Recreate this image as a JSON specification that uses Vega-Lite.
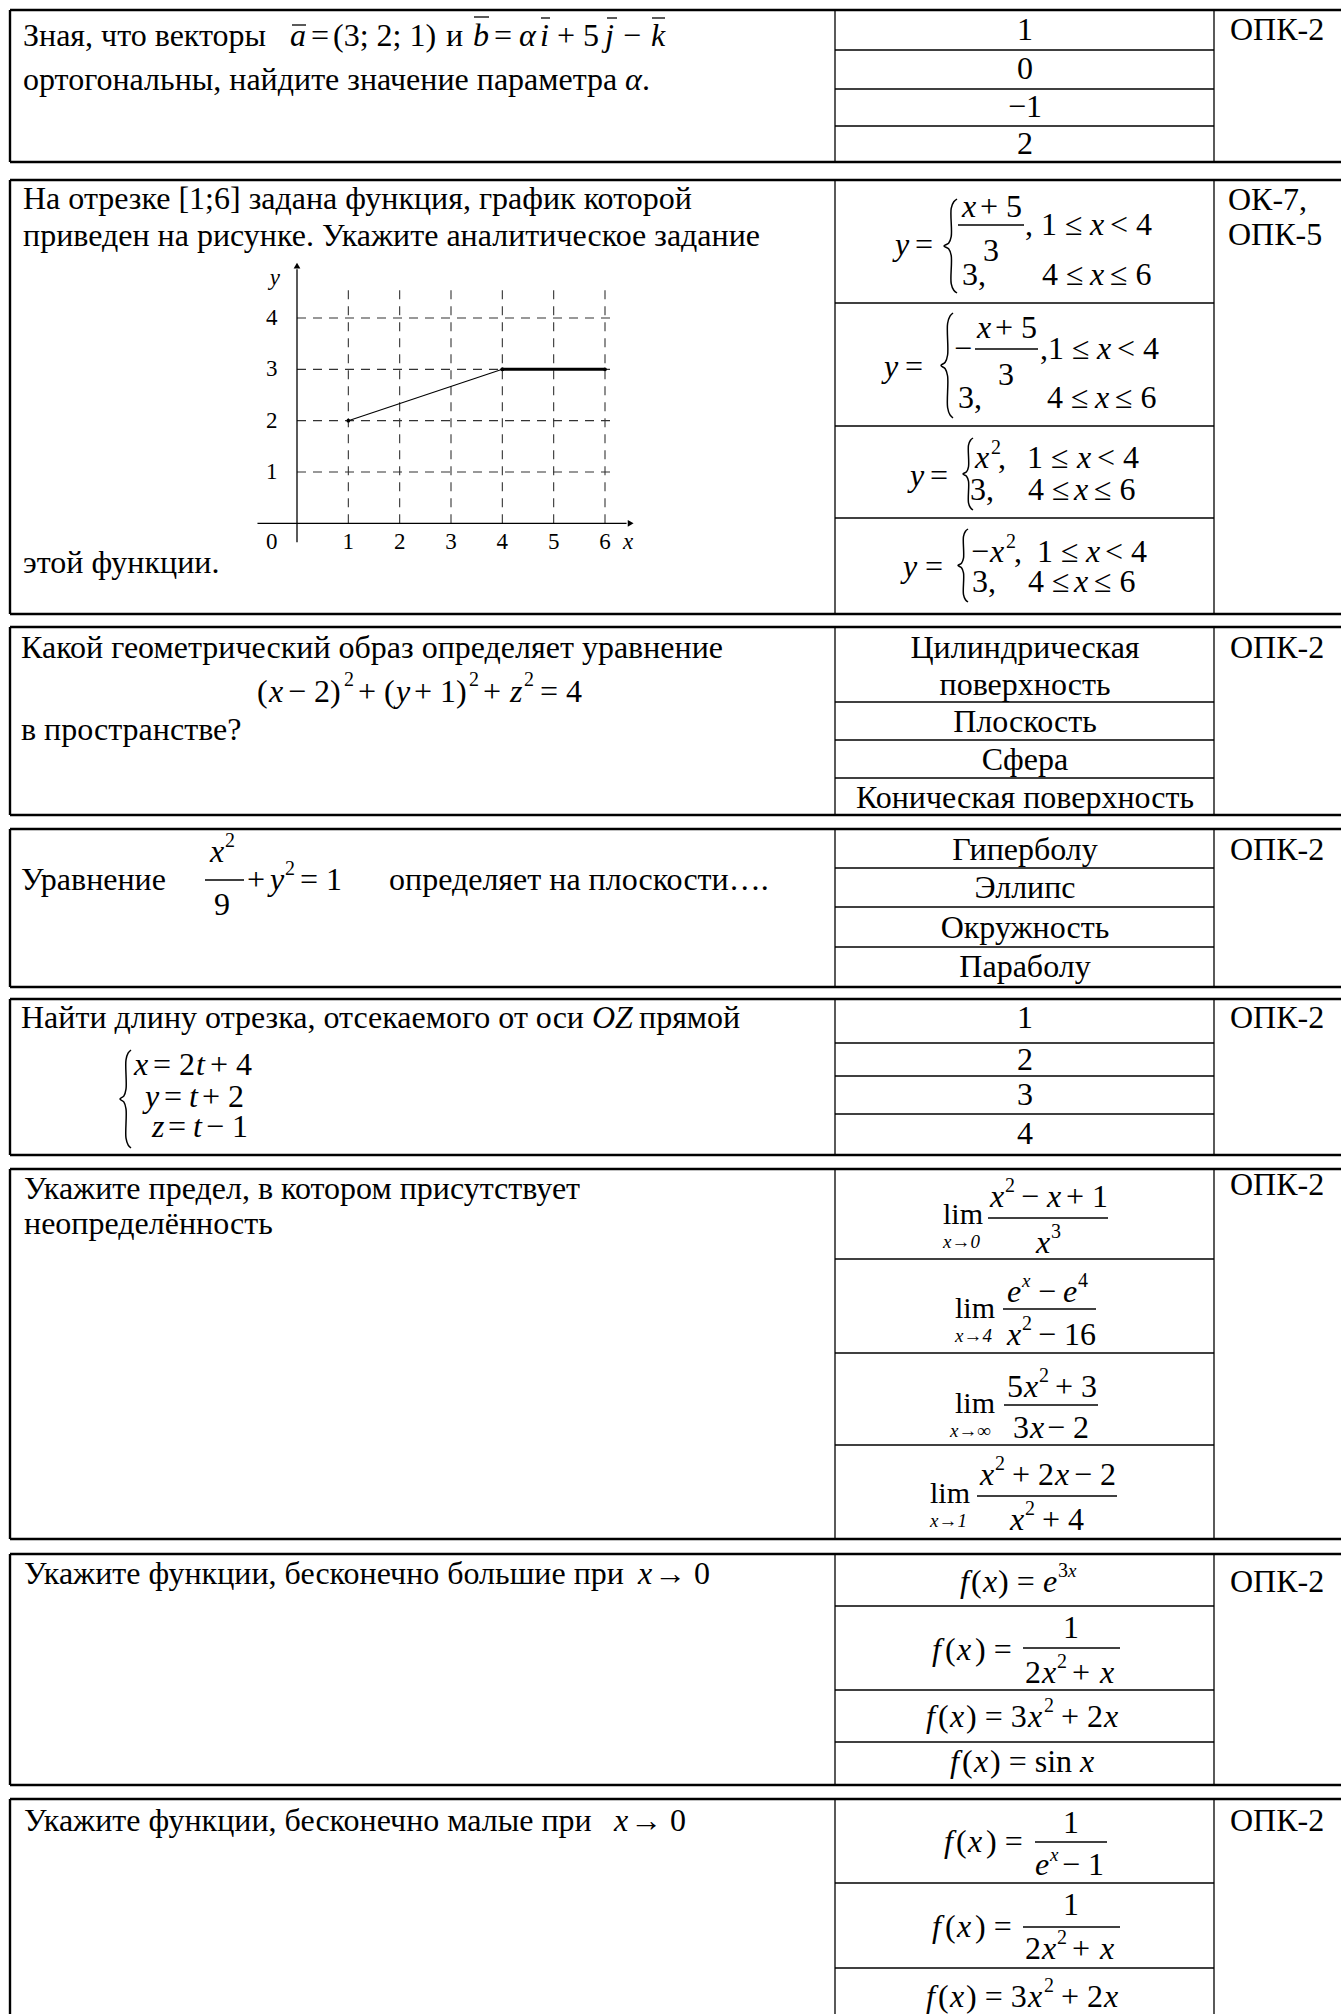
{
"$schema":"https://vega.github.io/schema/vega-lite/v6.json",
"width":1341,"height":2014,"autosize":{"type":"none"},"padding":0,"background":"white",
"config":{"view":{"stroke":null}},
"datasets":{
"rules":[
{"x":10,"x2":1341,"y":10,"y2":10,"k":"thick"},{"x":10,"x2":1341,"y":162,"y2":162,"k":"thick"},
{"x":10,"x2":1341,"y":180,"y2":180,"k":"thick"},{"x":10,"x2":1341,"y":614,"y2":614,"k":"thick"},
{"x":10,"x2":1341,"y":627,"y2":627,"k":"thick"},{"x":10,"x2":1341,"y":815,"y2":815,"k":"thick"},
{"x":10,"x2":1341,"y":829,"y2":829,"k":"thick"},{"x":10,"x2":1341,"y":987,"y2":987,"k":"thick"},
{"x":10,"x2":1341,"y":999,"y2":999,"k":"thick"},{"x":10,"x2":1341,"y":1155,"y2":1155,"k":"thick"},
{"x":10,"x2":1341,"y":1169,"y2":1169,"k":"thick"},{"x":10,"x2":1341,"y":1539,"y2":1539,"k":"thick"},
{"x":10,"x2":1341,"y":1554,"y2":1554,"k":"thick"},{"x":10,"x2":1341,"y":1785,"y2":1785,"k":"thick"},
{"x":10,"x2":1341,"y":1799,"y2":1799,"k":"thick"},
{"x":10,"x2":10,"y":10,"y2":162,"k":"thick"},{"x":10,"x2":10,"y":180,"y2":614,"k":"thick"},
{"x":10,"x2":10,"y":627,"y2":815,"k":"thick"},{"x":10,"x2":10,"y":829,"y2":987,"k":"thick"},
{"x":10,"x2":10,"y":999,"y2":1155,"k":"thick"},{"x":10,"x2":10,"y":1169,"y2":1539,"k":"thick"},
{"x":10,"x2":10,"y":1554,"y2":1785,"k":"thick"},{"x":10,"x2":10,"y":1799,"y2":2014,"k":"thick"},
{"x":835,"x2":835,"y":10,"y2":162,"k":"thin"},{"x":1214,"x2":1214,"y":10,"y2":162,"k":"thin"},
{"x":835,"x2":835,"y":180,"y2":614,"k":"thin"},{"x":1214,"x2":1214,"y":180,"y2":614,"k":"thin"},
{"x":835,"x2":835,"y":627,"y2":815,"k":"thin"},{"x":1214,"x2":1214,"y":627,"y2":815,"k":"thin"},
{"x":835,"x2":835,"y":829,"y2":987,"k":"thin"},{"x":1214,"x2":1214,"y":829,"y2":987,"k":"thin"},
{"x":835,"x2":835,"y":999,"y2":1155,"k":"thin"},{"x":1214,"x2":1214,"y":999,"y2":1155,"k":"thin"},
{"x":835,"x2":835,"y":1169,"y2":1539,"k":"thin"},{"x":1214,"x2":1214,"y":1169,"y2":1539,"k":"thin"},
{"x":835,"x2":835,"y":1554,"y2":1785,"k":"thin"},{"x":1214,"x2":1214,"y":1554,"y2":1785,"k":"thin"},
{"x":835,"x2":835,"y":1799,"y2":2014,"k":"thin"},{"x":1214,"x2":1214,"y":1799,"y2":2014,"k":"thin"},
{"x":835,"x2":1214,"y":50,"y2":50,"k":"row"},{"x":835,"x2":1214,"y":89,"y2":89,"k":"row"},{"x":835,"x2":1214,"y":126,"y2":126,"k":"row"},
{"x":835,"x2":1214,"y":303,"y2":303,"k":"row"},{"x":835,"x2":1214,"y":426,"y2":426,"k":"row"},{"x":835,"x2":1214,"y":518,"y2":518,"k":"row"},
{"x":835,"x2":1214,"y":702,"y2":702,"k":"row"},{"x":835,"x2":1214,"y":740,"y2":740,"k":"row"},{"x":835,"x2":1214,"y":778,"y2":778,"k":"row"},
{"x":835,"x2":1214,"y":868,"y2":868,"k":"row"},{"x":835,"x2":1214,"y":907,"y2":907,"k":"row"},{"x":835,"x2":1214,"y":947,"y2":947,"k":"row"},
{"x":835,"x2":1214,"y":1043,"y2":1043,"k":"row"},{"x":835,"x2":1214,"y":1076,"y2":1076,"k":"row"},{"x":835,"x2":1214,"y":1114,"y2":1114,"k":"row"},
{"x":835,"x2":1214,"y":1259,"y2":1259,"k":"row"},{"x":835,"x2":1214,"y":1353,"y2":1353,"k":"row"},{"x":835,"x2":1214,"y":1445,"y2":1445,"k":"row"},
{"x":835,"x2":1214,"y":1606,"y2":1606,"k":"row"},{"x":835,"x2":1214,"y":1690,"y2":1690,"k":"row"},{"x":835,"x2":1214,"y":1742,"y2":1742,"k":"row"},
{"x":835,"x2":1214,"y":1883,"y2":1883,"k":"row"},{"x":835,"x2":1214,"y":1968,"y2":1968,"k":"row"},
{"x":958,"x2":1024,"y":225,"y2":225,"k":"bar"},{"x":975,"x2":1038,"y":349,"y2":349,"k":"bar"},
{"x":205,"x2":244,"y":880,"y2":880,"k":"bar"},
{"x":988,"x2":1108,"y":1218,"y2":1218,"k":"bar"},{"x":1003,"x2":1096,"y":1309,"y2":1309,"k":"bar"},
{"x":1004,"x2":1098,"y":1405,"y2":1405,"k":"bar"},{"x":977,"x2":1117,"y":1496,"y2":1496,"k":"bar"},
{"x":1023,"x2":1120,"y":1648,"y2":1648,"k":"bar"},{"x":1035,"x2":1107,"y":1842,"y2":1842,"k":"bar"},
{"x":1023,"x2":1120,"y":1927,"y2":1927,"k":"bar"},
{"x":292,"x2":306,"y":25,"y2":25,"k":"bar"},{"x":474,"x2":489,"y":17,"y2":17,"k":"bar"},
{"x":541,"x2":550,"y":18,"y2":18,"k":"bar"},{"x":607,"x2":617,"y":18,"y2":18,"k":"bar"},
{"x":652,"x2":665,"y":18,"y2":18,"k":"bar"}
],
"braces":[
{"id":"a","i":0,"x":957,"y":199},{"id":"a","i":1,"x":953.8,"y":201.8},{"id":"a","i":2,"x":951.2,"y":208.4},{"id":"a","i":3,"x":951.2,"y":236.6},{"id":"a","i":4,"x":948.6,"y":243.2},{"id":"a","i":5,"x":944,"y":246},{"id":"a","i":6,"x":948.6,"y":248.8},{"id":"a","i":7,"x":951.2,"y":255.4},{"id":"a","i":8,"x":951.2,"y":283.6},{"id":"a","i":9,"x":953.8,"y":290.2},{"id":"a","i":10,"x":957,"y":293},
{"id":"b","i":0,"x":953,"y":313},{"id":"b","i":1,"x":950,"y":316.2},{"id":"b","i":2,"x":947.6,"y":323.5},{"id":"b","i":3,"x":947.6,"y":355},{"id":"b","i":4,"x":945.2,"y":362.3},{"id":"b","i":5,"x":941,"y":365.5},{"id":"b","i":6,"x":945.2,"y":368.7},{"id":"b","i":7,"x":947.6,"y":376},{"id":"b","i":8,"x":947.6,"y":407.5},{"id":"b","i":9,"x":950,"y":414.9},{"id":"b","i":10,"x":953,"y":418},
{"id":"c","i":0,"x":973,"y":438},{"id":"c","i":1,"x":970.5,"y":440.2},{"id":"c","i":2,"x":968.5,"y":445.2},{"id":"c","i":3,"x":968.5,"y":466.8},{"id":"c","i":4,"x":966.5,"y":471.8},{"id":"c","i":5,"x":963,"y":474},{"id":"c","i":6,"x":966.5,"y":476.2},{"id":"c","i":7,"x":968.5,"y":481.2},{"id":"c","i":8,"x":968.5,"y":502.8},{"id":"c","i":9,"x":970.5,"y":507.8},{"id":"c","i":10,"x":973,"y":510},
{"id":"d","i":0,"x":968,"y":529},{"id":"d","i":1,"x":965.5,"y":531.2},{"id":"d","i":2,"x":963.5,"y":536.3},{"id":"d","i":3,"x":963.5,"y":558.2},{"id":"d","i":4,"x":961.5,"y":563.3},{"id":"d","i":5,"x":958,"y":565.5},{"id":"d","i":6,"x":961.5,"y":567.7},{"id":"d","i":7,"x":963.5,"y":572.8},{"id":"d","i":8,"x":963.5,"y":594.7},{"id":"d","i":9,"x":965.5,"y":599.8},{"id":"d","i":10,"x":968,"y":602},
{"id":"e","i":0,"x":131,"y":1050},{"id":"e","i":1,"x":128.2,"y":1052.9},{"id":"e","i":2,"x":126,"y":1059.8},{"id":"e","i":3,"x":126,"y":1089.2},{"id":"e","i":4,"x":123.8,"y":1096.1},{"id":"e","i":5,"x":120,"y":1099},{"id":"e","i":6,"x":123.8,"y":1101.9},{"id":"e","i":7,"x":126,"y":1108.8},{"id":"e","i":8,"x":126,"y":1138.2},{"id":"e","i":9,"x":128.2,"y":1145.1},{"id":"e","i":10,"x":131,"y":1148}
],
"txt":[
{"t":"Зная, что векторы","x":23,"y":36,"k":"t"},{"t":"a","x":290,"y":36,"k":"i"},{"t":"=","x":311,"y":36,"k":"t"},{"t":"(3; 2; 1)","x":333,"y":36,"k":"t"},
{"t":"и","x":446,"y":36,"k":"t"},{"t":"b","x":473,"y":36,"k":"i"},{"t":"=","x":494,"y":36,"k":"t"},{"t":"α","x":519,"y":36,"k":"i"},{"t":"i","x":540,"y":36,"k":"i"},
{"t":"+ 5","x":557,"y":36,"k":"t"},{"t":"j","x":605,"y":36,"k":"i"},{"t":"−","x":623,"y":36,"k":"t"},{"t":"k","x":651,"y":36,"k":"i"},
{"t":"ортогональны, найдите значение параметра","x":23,"y":80,"k":"t"},{"t":"α","x":625,"y":80,"k":"i"},{"t":".","x":642,"y":80,"k":"t"},
{"t":"1","x":1025,"y":30,"k":"c"},{"t":"0","x":1025,"y":69,"k":"c"},{"t":"−1","x":1025,"y":107,"k":"c"},{"t":"2","x":1025,"y":144,"k":"c"},
{"t":"ОПК-2","x":1230,"y":30,"k":"t"},
{"t":"На отрезке [1;6] задана функция, график которой","x":23,"y":199,"k":"t"},
{"t":"приведен на рисунке. Укажите аналитическое задание","x":23,"y":236,"k":"t"},
{"t":"этой функции.","x":23,"y":563,"k":"t"},
{"t":"ОК-7,","x":1228,"y":200,"k":"t"},{"t":"ОПК-5","x":1228,"y":235,"k":"t"},
{"t":"y","x":895,"y":245,"k":"i"},{"t":"=","x":915,"y":245,"k":"t"},{"t":"x","x":962,"y":207,"k":"i"},{"t":"+ 5","x":980,"y":207,"k":"t"},{"t":"3","x":991,"y":251,"k":"c"},
{"t":", 1 ≤","x":1025,"y":225,"k":"t"},{"t":"x","x":1090,"y":225,"k":"i"},{"t":"< 4","x":1110,"y":225,"k":"t"},
{"t":"3,","x":962,"y":275,"k":"t"},{"t":"4 ≤","x":1042,"y":275,"k":"t"},{"t":"x","x":1090,"y":275,"k":"i"},{"t":"≤ 6","x":1110,"y":275,"k":"t"},
{"t":"y","x":884,"y":367,"k":"i"},{"t":"=","x":905,"y":367,"k":"t"},{"t":"−","x":954,"y":349,"k":"t"},{"t":"x","x":977,"y":328,"k":"i"},{"t":"+ 5","x":995,"y":328,"k":"t"},{"t":"3","x":1006,"y":375,"k":"c"},
{"t":",1 ≤","x":1040,"y":349,"k":"t"},{"t":"x","x":1097,"y":349,"k":"i"},{"t":"< 4","x":1117,"y":349,"k":"t"},
{"t":"3,","x":958,"y":398,"k":"t"},{"t":"4 ≤","x":1047,"y":398,"k":"t"},{"t":"x","x":1095,"y":398,"k":"i"},{"t":"≤ 6","x":1115,"y":398,"k":"t"},
{"t":"y","x":910,"y":476,"k":"i"},{"t":"=","x":930,"y":476,"k":"t"},{"t":"x","x":975,"y":458,"k":"i"},{"t":"2","x":991,"y":448,"k":"s"},{"t":",","x":998,"y":458,"k":"t"},
{"t":"1 ≤","x":1027,"y":458,"k":"t"},{"t":"x","x":1077,"y":458,"k":"i"},{"t":"< 4","x":1097,"y":458,"k":"t"},
{"t":"3,","x":970,"y":490,"k":"t"},{"t":"4 ≤","x":1028,"y":490,"k":"t"},{"t":"x","x":1074,"y":490,"k":"i"},{"t":"≤ 6","x":1094,"y":490,"k":"t"},
{"t":"y","x":903,"y":567,"k":"i"},{"t":"=","x":925,"y":567,"k":"t"},{"t":"−","x":971,"y":552,"k":"t"},{"t":"x","x":990,"y":552,"k":"i"},{"t":"2","x":1006,"y":542,"k":"s"},{"t":",","x":1014,"y":552,"k":"t"},
{"t":"1 ≤","x":1037,"y":552,"k":"t"},{"t":"x","x":1086,"y":552,"k":"i"},{"t":"< 4","x":1105,"y":552,"k":"t"},
{"t":"3,","x":972,"y":582,"k":"t"},{"t":"4 ≤","x":1028,"y":582,"k":"t"},{"t":"x","x":1074,"y":582,"k":"i"},{"t":"≤ 6","x":1094,"y":582,"k":"t"},
{"t":"Какой геометрический образ определяет уравнение","x":21,"y":648,"k":"t"},
{"t":"(","x":257,"y":692,"k":"t"},{"t":"x","x":269,"y":692,"k":"i"},{"t":"− 2)","x":288,"y":692,"k":"t"},{"t":"2","x":344,"y":680,"k":"s"},
{"t":"+ (","x":358,"y":692,"k":"t"},{"t":"y","x":396,"y":692,"k":"i"},{"t":"+ 1)","x":414,"y":692,"k":"t"},{"t":"2","x":469,"y":680,"k":"s"},
{"t":"+","x":483,"y":692,"k":"t"},{"t":"z","x":510,"y":692,"k":"i"},{"t":"2","x":524,"y":680,"k":"s"},{"t":"= 4","x":540,"y":692,"k":"t"},
{"t":"в пространстве?","x":21,"y":730,"k":"t"},
{"t":"Цилиндрическая","x":1025,"y":648,"k":"c"},{"t":"поверхность","x":1025,"y":685,"k":"c"},{"t":"Плоскость","x":1025,"y":722,"k":"c"},
{"t":"Сфера","x":1025,"y":760,"k":"c"},{"t":"Коническая поверхность","x":1025,"y":798,"k":"c"},{"t":"ОПК-2","x":1230,"y":648,"k":"t"},
{"t":"Уравнение","x":21,"y":880,"k":"t"},{"t":"x","x":210,"y":852,"k":"i"},{"t":"2","x":225,"y":841,"k":"s"},{"t":"9","x":222,"y":905,"k":"c"},
{"t":"+","x":247,"y":880,"k":"t"},{"t":"y","x":270,"y":880,"k":"i"},{"t":"2","x":285,"y":869,"k":"s"},{"t":"= 1","x":300,"y":880,"k":"t"},
{"t":"определяет на плоскости….","x":389,"y":880,"k":"t"},
{"t":"Гиперболу","x":1025,"y":850,"k":"c"},{"t":"Эллипс","x":1025,"y":888,"k":"c"},{"t":"Окружность","x":1025,"y":928,"k":"c"},{"t":"Параболу","x":1025,"y":967,"k":"c"},
{"t":"ОПК-2","x":1230,"y":850,"k":"t"},
{"t":"Найти длину отрезка, отсекаемого от оси","x":21,"y":1018,"k":"t"},{"t":"OZ","x":592,"y":1018,"k":"i"},{"t":"прямой","x":639,"y":1018,"k":"t"},
{"t":"x","x":134,"y":1065,"k":"i"},{"t":"= 2","x":153,"y":1065,"k":"t"},{"t":"t","x":196,"y":1065,"k":"i"},{"t":"+ 4","x":210,"y":1065,"k":"t"},
{"t":"y","x":145,"y":1097,"k":"i"},{"t":"=","x":164,"y":1097,"k":"t"},{"t":"t","x":189,"y":1097,"k":"i"},{"t":"+ 2","x":202,"y":1097,"k":"t"},
{"t":"z","x":152,"y":1127,"k":"i"},{"t":"=","x":168,"y":1127,"k":"t"},{"t":"t","x":193,"y":1127,"k":"i"},{"t":"− 1","x":206,"y":1127,"k":"t"},
{"t":"1","x":1025,"y":1018,"k":"c"},{"t":"2","x":1025,"y":1060,"k":"c"},{"t":"3","x":1025,"y":1095,"k":"c"},{"t":"4","x":1025,"y":1134,"k":"c"},
{"t":"ОПК-2","x":1230,"y":1018,"k":"t"},
{"t":"Укажите предел, в котором присутствует","x":24,"y":1189,"k":"t"},{"t":"неопределённость","x":24,"y":1224,"k":"t"},{"t":"ОПК-2","x":1230,"y":1185,"k":"t"},
{"t":"lim","x":943,"y":1215,"k":"lim"},{"t":"x→0","x":943,"y":1242,"k":"si"},
{"t":"x","x":990,"y":1197,"k":"i"},{"t":"2","x":1005,"y":1186,"k":"s"},{"t":"−","x":1021,"y":1197,"k":"t"},{"t":"x","x":1047,"y":1197,"k":"i"},{"t":"+ 1","x":1066,"y":1197,"k":"t"},
{"t":"x","x":1036,"y":1243,"k":"i"},{"t":"3","x":1051,"y":1232,"k":"s"},
{"t":"lim","x":955,"y":1309,"k":"lim"},{"t":"x→4","x":955,"y":1336,"k":"si"},
{"t":"e","x":1007,"y":1292,"k":"i"},{"t":"x","x":1022,"y":1281,"k":"si"},{"t":"−","x":1038,"y":1292,"k":"t"},{"t":"e","x":1063,"y":1292,"k":"i"},{"t":"4","x":1078,"y":1281,"k":"s"},
{"t":"x","x":1007,"y":1335,"k":"i"},{"t":"2","x":1022,"y":1324,"k":"s"},{"t":"− 16","x":1038,"y":1335,"k":"t"},
{"t":"lim","x":955,"y":1404,"k":"lim"},{"t":"x→∞","x":950,"y":1431,"k":"si"},
{"t":"5","x":1007,"y":1387,"k":"t"},{"t":"x","x":1024,"y":1387,"k":"i"},{"t":"2","x":1039,"y":1376,"k":"s"},{"t":"+ 3","x":1055,"y":1387,"k":"t"},
{"t":"3","x":1013,"y":1428,"k":"t"},{"t":"x","x":1030,"y":1428,"k":"i"},{"t":"− 2","x":1047,"y":1428,"k":"t"},
{"t":"lim","x":930,"y":1494,"k":"lim"},{"t":"x→1","x":930,"y":1521,"k":"si"},
{"t":"x","x":980,"y":1475,"k":"i"},{"t":"2","x":995,"y":1464,"k":"s"},{"t":"+ 2","x":1012,"y":1475,"k":"t"},{"t":"x","x":1055,"y":1475,"k":"i"},{"t":"− 2","x":1074,"y":1475,"k":"t"},
{"t":"x","x":1010,"y":1520,"k":"i"},{"t":"2","x":1025,"y":1509,"k":"s"},{"t":"+ 4","x":1042,"y":1520,"k":"t"},
{"t":"Укажите функции, бесконечно большие при","x":24,"y":1574,"k":"t"},{"t":"x","x":638,"y":1574,"k":"i"},{"t":"→ 0","x":654,"y":1574,"k":"t"},
{"t":"ОПК-2","x":1230,"y":1582,"k":"t"},
{"t":"f","x":960,"y":1582,"k":"i"},{"t":"(","x":971,"y":1582,"k":"t"},{"t":"x","x":983,"y":1582,"k":"i"},{"t":") =","x":998,"y":1582,"k":"t"},{"t":"e","x":1043,"y":1582,"k":"i"},{"t":"3","x":1058,"y":1571,"k":"s"},{"t":"x","x":1068,"y":1571,"k":"si"},
{"t":"f","x":932,"y":1650,"k":"i"},{"t":"(","x":945,"y":1650,"k":"t"},{"t":"x","x":957,"y":1650,"k":"i"},{"t":") =","x":975,"y":1650,"k":"t"},{"t":"1","x":1071,"y":1628,"k":"c"},
{"t":"2","x":1025,"y":1673,"k":"t"},{"t":"x","x":1042,"y":1673,"k":"i"},{"t":"2","x":1057,"y":1662,"k":"s"},{"t":"+","x":1072,"y":1673,"k":"t"},{"t":"x","x":1100,"y":1673,"k":"i"},
{"t":"f","x":926,"y":1717,"k":"i"},{"t":"(","x":938,"y":1717,"k":"t"},{"t":"x","x":950,"y":1717,"k":"i"},{"t":") = 3","x":966,"y":1717,"k":"t"},{"t":"x","x":1028,"y":1717,"k":"i"},{"t":"2","x":1044,"y":1706,"k":"s"},{"t":"+ 2","x":1061,"y":1717,"k":"t"},{"t":"x","x":1104,"y":1717,"k":"i"},
{"t":"f","x":950,"y":1762,"k":"i"},{"t":"(","x":962,"y":1762,"k":"t"},{"t":"x","x":974,"y":1762,"k":"i"},{"t":") = sin","x":990,"y":1762,"k":"t"},{"t":"x","x":1080,"y":1762,"k":"i"},
{"t":"Укажите функции, бесконечно малые при","x":24,"y":1821,"k":"t"},{"t":"x","x":614,"y":1821,"k":"i"},{"t":"→ 0","x":630,"y":1821,"k":"t"},
{"t":"ОПК-2","x":1230,"y":1821,"k":"t"},
{"t":"f","x":944,"y":1842,"k":"i"},{"t":"(","x":956,"y":1842,"k":"t"},{"t":"x","x":968,"y":1842,"k":"i"},{"t":") =","x":986,"y":1842,"k":"t"},{"t":"1","x":1071,"y":1823,"k":"c"},
{"t":"e","x":1035,"y":1865,"k":"i"},{"t":"x","x":1050,"y":1855,"k":"si"},{"t":"− 1","x":1062,"y":1865,"k":"t"},
{"t":"f","x":932,"y":1927,"k":"i"},{"t":"(","x":945,"y":1927,"k":"t"},{"t":"x","x":957,"y":1927,"k":"i"},{"t":") =","x":975,"y":1927,"k":"t"},{"t":"1","x":1071,"y":1905,"k":"c"},
{"t":"2","x":1025,"y":1949,"k":"t"},{"t":"x","x":1042,"y":1949,"k":"i"},{"t":"2","x":1057,"y":1938,"k":"s"},{"t":"+","x":1072,"y":1949,"k":"t"},{"t":"x","x":1100,"y":1949,"k":"i"},
{"t":"f","x":926,"y":1997,"k":"i"},{"t":"(","x":938,"y":1997,"k":"t"},{"t":"x","x":950,"y":1997,"k":"i"},{"t":") = 3","x":966,"y":1997,"k":"t"},{"t":"x","x":1028,"y":1997,"k":"i"},{"t":"2","x":1044,"y":1986,"k":"s"},{"t":"+ 2","x":1061,"y":1997,"k":"t"},{"t":"x","x":1104,"y":1997,"k":"i"}
],
"grid":[{"d":"v","v":1},{"d":"v","v":2},{"d":"v","v":3},{"d":"v","v":4},{"d":"v","v":5},{"d":"v","v":6},{"d":"h","v":1},{"d":"h","v":2},{"d":"h","v":3},{"d":"h","v":4}],
"fn":[{"seg":"a","gx":1,"gy":2},{"seg":"a","gx":4,"gy":3},{"seg":"b","gx":4,"gy":3},{"seg":"b","gx":6,"gy":3}]
},
"layer":[
{
"encoding":{
"x":{"field":"x","type":"quantitative","scale":{"domain":[0,1341],"nice":false,"zero":false},"axis":null},
"y":{"field":"y","type":"quantitative","scale":{"domain":[0,2014],"nice":false,"zero":false,"reverse":true},"axis":null}
},
"layer":[
{"data":{"name":"rules"},"transform":[{"filter":"datum.k=='thick'"}],"mark":{"type":"rule","strokeWidth":2.4,"color":"black"},"encoding":{"x2":{"field":"x2"},"y2":{"field":"y2"}}},
{"data":{"name":"rules"},"transform":[{"filter":"datum.k=='thin'"}],"mark":{"type":"rule","strokeWidth":1.3,"color":"black"},"encoding":{"x2":{"field":"x2"},"y2":{"field":"y2"}}},
{"data":{"name":"rules"},"transform":[{"filter":"datum.k=='row'"}],"mark":{"type":"rule","strokeWidth":1.7,"color":"black"},"encoding":{"x2":{"field":"x2"},"y2":{"field":"y2"}}},
{"data":{"name":"rules"},"transform":[{"filter":"datum.k=='bar'"}],"mark":{"type":"rule","strokeWidth":1.3,"color":"black"},"encoding":{"x2":{"field":"x2"},"y2":{"field":"y2"}}},
{"data":{"name":"braces"},"mark":{"type":"line","interpolate":"catmull-rom","strokeWidth":1.5,"color":"black"},"encoding":{"detail":{"field":"id"},"order":{"field":"i","type":"quantitative"}}},
{"data":{"name":"txt"},"transform":[{"filter":"datum.k=='t'"}],"mark":{"type":"text","align":"left","baseline":"middle","font":"Liberation Serif","fontSize":32,"color":"black"},"encoding":{"text":{"field":"t"}}},
{"data":{"name":"txt"},"transform":[{"filter":"datum.k=='c'"}],"mark":{"type":"text","align":"center","baseline":"middle","font":"Liberation Serif","fontSize":32,"color":"black"},"encoding":{"text":{"field":"t"}}},
{"data":{"name":"txt"},"transform":[{"filter":"datum.k=='i'"}],"mark":{"type":"text","align":"left","baseline":"middle","font":"Liberation Serif","fontSize":32,"fontStyle":"italic","color":"black"},"encoding":{"text":{"field":"t"}}},
{"data":{"name":"txt"},"transform":[{"filter":"datum.k=='s'"}],"mark":{"type":"text","align":"left","baseline":"middle","font":"Liberation Serif","fontSize":20,"color":"black"},"encoding":{"text":{"field":"t"}}},
{"data":{"name":"txt"},"transform":[{"filter":"datum.k=='si'"}],"mark":{"type":"text","align":"left","baseline":"middle","font":"Liberation Serif","fontSize":19,"fontStyle":"italic","color":"black"},"encoding":{"text":{"field":"t"}}},
{"data":{"name":"txt"},"transform":[{"filter":"datum.k=='lim'"}],"mark":{"type":"text","align":"left","baseline":"middle","font":"Liberation Serif","fontSize":30,"color":"black"},"encoding":{"text":{"field":"t"}}}
]
},
{
"layer":[
{"data":{"name":"grid"},"transform":[{"filter":"datum.d=='v'"}],"mark":{"type":"rule","strokeDash":[9,7],"strokeWidth":1.1,"color":"#333"},
 "encoding":{"x":{"field":"v","type":"quantitative","scale":{"domain":[0,6],"range":[297,605],"nice":false,"zero":false},"axis":null},
 "y":{"datum":0,"type":"quantitative","scale":{"domain":[0,4],"range":[523.3,318],"nice":false,"zero":false},"axis":null},"y2":{"datum":4.55}}},
{"data":{"name":"grid"},"transform":[{"filter":"datum.d=='h'"}],"mark":{"type":"rule","strokeDash":[9,7],"strokeWidth":1.1,"color":"#333"},
 "encoding":{"x":{"datum":0,"type":"quantitative","scale":{"domain":[0,6],"range":[297,605],"nice":false,"zero":false},"axis":null},"x2":{"datum":6.2},
 "y":{"field":"v","type":"quantitative","scale":{"domain":[0,4],"range":[523.3,318],"nice":false,"zero":false},"axis":null}}},
{"data":{"values":[{}]},"mark":{"type":"rule","strokeWidth":1.3,"color":"black"},
 "encoding":{"x":{"datum":-0.77,"type":"quantitative"},"x2":{"datum":6.42},"y":{"datum":0,"type":"quantitative"}}},
{"data":{"values":[{}]},"mark":{"type":"rule","strokeWidth":1.3,"color":"black"},
 "encoding":{"x":{"datum":0,"type":"quantitative"},"y":{"datum":-0.37,"type":"quantitative"},"y2":{"datum":4.95}}},
{"data":{"values":[{}]},"mark":{"type":"point","shape":"triangle-right","filled":true,"size":45,"color":"black","opacity":1},
 "encoding":{"x":{"datum":6.5,"type":"quantitative"},"y":{"datum":0,"type":"quantitative"}}},
{"data":{"values":[{}]},"mark":{"type":"point","shape":"triangle-up","filled":true,"size":45,"color":"black","opacity":1},
 "encoding":{"x":{"datum":0,"type":"quantitative"},"y":{"datum":5.02,"type":"quantitative"}}},
{"data":{"name":"fn"},"transform":[{"filter":"datum.seg=='a'"}],"mark":{"type":"line","strokeWidth":1.1,"color":"black"},
 "encoding":{"x":{"field":"gx","type":"quantitative"},"y":{"field":"gy","type":"quantitative"}}},
{"data":{"name":"fn"},"transform":[{"filter":"datum.seg=='b'"}],"mark":{"type":"line","strokeWidth":3,"color":"black"},
 "encoding":{"x":{"field":"gx","type":"quantitative"},"y":{"field":"gy","type":"quantitative"}}},
{"data":{"name":"fn"},"mark":{"type":"point","filled":true,"size":14,"color":"black","opacity":1},
 "encoding":{"x":{"field":"gx","type":"quantitative"},"y":{"field":"gy","type":"quantitative"}}},
{"data":{"name":"grid"},"transform":[{"filter":"datum.d=='v'"}],"mark":{"type":"text","align":"center","baseline":"middle","font":"Liberation Serif","fontSize":23,"color":"black"},
 "encoding":{"x":{"field":"v","type":"quantitative"},"y":{"datum":-0.37,"type":"quantitative"},"text":{"field":"v","type":"nominal"}}},
{"data":{"name":"grid"},"transform":[{"filter":"datum.d=='h'"}],"mark":{"type":"text","align":"center","baseline":"middle","font":"Liberation Serif","fontSize":23,"color":"black"},
 "encoding":{"x":{"datum":-0.49,"type":"quantitative"},"y":{"field":"v","type":"quantitative"},"text":{"field":"v","type":"nominal"}}},
{"data":{"values":[{"lab":"0"}]},"mark":{"type":"text","align":"center","baseline":"middle","font":"Liberation Serif","fontSize":23,"color":"black"},
 "encoding":{"x":{"datum":-0.49,"type":"quantitative"},"y":{"datum":-0.37,"type":"quantitative"},"text":{"field":"lab"}}},
{"data":{"values":[{"lab":"x"}]},"mark":{"type":"text","align":"center","baseline":"middle","font":"Liberation Serif","fontSize":23,"fontStyle":"italic","color":"black"},
 "encoding":{"x":{"datum":6.45,"type":"quantitative"},"y":{"datum":-0.37,"type":"quantitative"},"text":{"field":"lab"}}},
{"data":{"values":[{"lab":"y"}]},"mark":{"type":"text","align":"center","baseline":"middle","font":"Liberation Serif","fontSize":23,"fontStyle":"italic","color":"black"},
 "encoding":{"x":{"datum":-0.43,"type":"quantitative"},"y":{"datum":4.78,"type":"quantitative"},"text":{"field":"lab"}}}
]
}
],
"resolve":{"scale":{"x":"independent","y":"independent"}}
}
